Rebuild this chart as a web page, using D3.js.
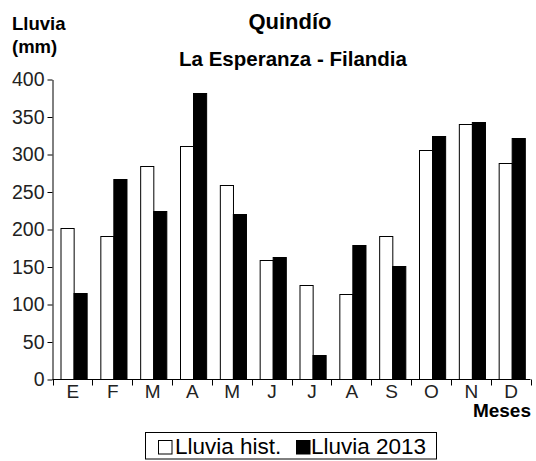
<!DOCTYPE html>
<html>
<head>
<meta charset="utf-8">
<script src="https://cdn.jsdelivr.net/npm/d3@7"></script>
<style>
  html, body { margin: 0; padding: 0; background: #fff; }
  svg { display: block; font-family: "Liberation Sans", Arial, sans-serif; }
</style>
</head>
<body>
<svg id="chart" width="536" height="461"></svg>
<script>
const months = ["E", "F", "M", "A", "M", "J", "J", "A", "S", "O", "N", "D"];
const seriesNames = ["Lluvia hist.", "Lluvia 2013"];
const histValues = [202, 192, 285, 311, 259, 159, 126, 114, 192, 306, 341, 289];
const values2013 = [115, 268, 225, 382, 220, 164, 33, 179, 152, 325, 344, 322];
const yTicks = [0, 50, 100, 150, 200, 250, 300, 350, 400];

(function () {
const svg = d3.select("#chart");
const plotLeft = 52.5, plotRight = 530.5, plotBottom = 379.5, plotTop = 79.5;

const idx = months.map((m, i) => i);
const x0 = d3.scaleBand().domain(idx).range([plotLeft, plotRight]).padding(0);
const step = x0.step();
const x1 = d3.scaleBand().domain([0, 1]).range([step * 0.2, step * 0.86]).padding(0);
const y = d3.scaleLinear().domain([0, 400]).range([plotBottom, plotTop]);

// Bars
const data = idx.map(i => [histValues[i], values2013[i]]);
const groups = svg.append("g").selectAll("g").data(data).join("g")
  .attr("transform", (d, i) => `translate(${x0(i)},0)`);
groups.selectAll("rect").data(d => d.map((v, s) => ({v, s}))).join("rect")
  .attr("x", d => Math.round(x1(d.s)) + 0.5)
  .attr("y", d => Math.round(y(d.v)) + 0.5)
  .attr("width", x1.bandwidth())
  .attr("height", d => plotBottom - Math.round(y(d.v)) - 0.5)
  .attr("fill", d => d.s === 0 ? "#fff" : "#000")
  .attr("stroke", "#000")
  .attr("stroke-width", 1);

// Y axis
const yAxis = svg.append("g").attr("transform", `translate(${plotLeft},0)`)
  .call(d3.axisLeft(y).tickValues(yTicks).tickSize(5).tickPadding(3).tickSizeOuter(0));
yAxis.select(".domain").attr("stroke", "#000");
yAxis.selectAll(".tick line").attr("stroke", "#000");
yAxis.selectAll("text").attr("font-size", 19.5).attr("fill", "#222")
  .attr("font-family", "'Liberation Sans', Arial, sans-serif");

// X axis line
svg.append("line").attr("x1", plotLeft).attr("x2", plotRight).attr("y1", plotBottom).attr("y2", plotBottom)
  .attr("stroke", "#000");
// X boundary ticks
const boundaries = idx.map(i => x0(i)).concat([plotRight]);
svg.append("g").selectAll("line").data(boundaries).join("line")
  .attr("x1", d => Math.round(d) + 0.5).attr("x2", d => Math.round(d) + 0.5)
  .attr("y1", plotBottom).attr("y2", plotBottom + 6).attr("stroke", "#000");
// Month labels
svg.append("g").selectAll("text").data(idx).join("text")
  .attr("x", i => x0(i) + step / 2 + 0.5)
  .attr("y", 398)
  .attr("text-anchor", "middle")
  .attr("font-size", 19)
  .attr("fill", "#222")
  .text(i => months[i]);

// Titles
svg.append("text").attr("x", 290).attr("y", 29).attr("text-anchor", "middle")
  .attr("font-size", 22).attr("font-weight", "bold").text("Quindío");
svg.append("text").attr("x", 293).attr("y", 66).attr("text-anchor", "middle")
  .attr("font-size", 20.5).attr("font-weight", "bold").text("La Esperanza - Filandia");
svg.append("text").attr("x", 12).attr("y", 30)
  .attr("font-size", 18.5).attr("font-weight", "bold").text("Lluvia");
svg.append("text").attr("x", 12).attr("y", 53)
  .attr("font-size", 18.5).attr("font-weight", "bold").text("(mm)");
svg.append("text").attr("x", 531).attr("y", 417).attr("text-anchor", "end")
  .attr("font-size", 19).attr("font-weight", "bold").text("Meses");

// Legend
const lg = svg.append("g");
lg.append("rect").attr("x", 145.5).attr("y", 432.5).attr("width", 291).attr("height", 26.5)
  .attr("fill", "#fff").attr("stroke", "#000");
const legendItems = [
  {name: seriesNames[0], fill: "#fff", sx: 158.5, tx: 175},
  {name: seriesNames[1], fill: "#000", sx: 296.5, tx: 311}
];
legendItems.forEach(it => {
  lg.append("rect").attr("x", it.sx).attr("y", 440.5).attr("width", 13.5).attr("height", 13.5)
    .attr("fill", it.fill).attr("stroke", "#000");
  lg.append("text").attr("x", it.tx).attr("y", 454).attr("font-size", 22.5).attr("fill", "#000")
    .text(it.name);
});
})();
</script>
</body>
</html>
